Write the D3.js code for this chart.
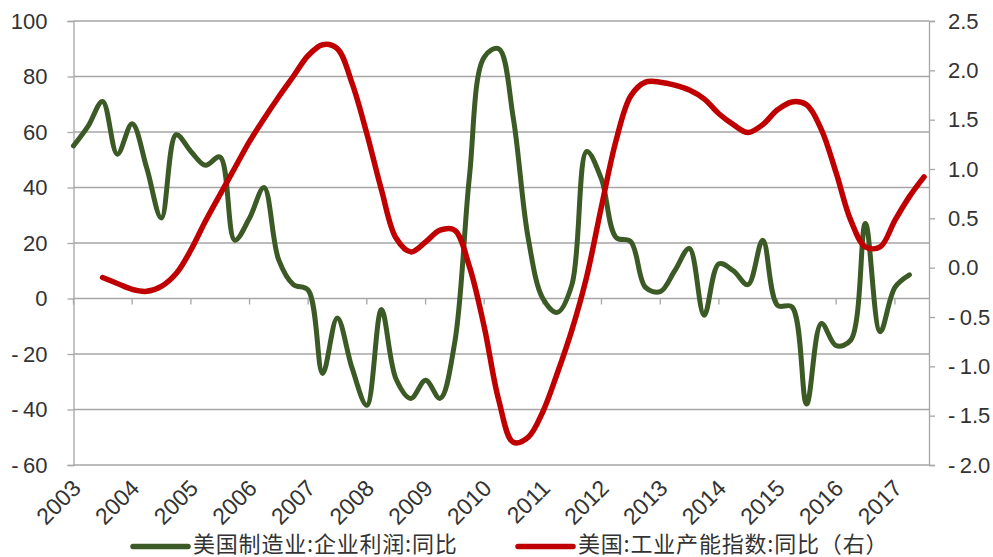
<!DOCTYPE html>
<html>
<head>
<meta charset="utf-8">
<script src="https://cdn.jsdelivr.net/npm/d3@7"></script>
<style>
  html, body { margin: 0; padding: 0; background: #fff; }
  svg { display: block; }
  .tick-label { font-family: "Liberation Sans", Arial, sans-serif; font-size: 22px; fill: #333; }
  .year-label { font-family: "Liberation Sans", Arial, sans-serif; font-size: 23px; fill: #333; }
  .legend-label { font-family: "Noto Sans CJK SC", sans-serif; font-size: 22px; letter-spacing: 0.8px; fill: #333; }
</style>
</head>
<body>
<svg id="chart" width="993" height="557"></svg>
<script>
// US manufacturing corporate profits, YoY (%), quarterly — left axis
const profitDates = [
  "2003-01","2003-04","2003-07","2003-10","2004-01","2004-04","2004-07","2004-10",
  "2005-01","2005-04","2005-07","2005-10","2006-01","2006-04","2006-07","2006-10",
  "2007-01","2007-04","2007-07","2007-10","2008-01","2008-04","2008-07","2008-10",
  "2009-01","2009-04","2009-07","2009-10","2010-01","2010-04","2010-07","2010-10",
  "2011-01","2011-04","2011-07","2011-10","2012-01","2012-04","2012-07","2012-10",
  "2013-01","2013-04","2013-07","2013-10","2014-01","2014-04","2014-07","2014-10",
  "2015-01","2015-04","2015-07","2015-10","2016-01","2016-04","2016-07","2016-10",
  "2017-01","2017-04"
];
const profitValues = [
  55, 62, 71, 52, 63, 47, 29, 59,
  53, 48, 51, 21, 29, 40, 14, 5,
  3, -27, -7, -25, -38.5, -4, -29, -36,
  -29.5, -36, -16, 44, 87, 90, 65, 22,
  0, -5, 5, 53, 43, 22, 20.5, 4,
  2.5, 10, 18, -6, 12.5, 10, 5, 21,
  -2.5, -3, -38, -9, -17, -15, 27, -12,
  4, 8.5
];

// US industrial capacity index, YoY (%) — right axis
const capacityDates = [
  "2003-07","2003-10","2004-01","2004-04","2004-07","2004-10","2005-01","2005-04",
  "2005-07","2005-10","2006-01","2006-04","2006-07","2006-10","2007-01","2007-04",
  "2007-07","2007-10","2008-01","2008-04","2008-07","2008-10","2009-01","2009-04",
  "2009-07","2009-10","2010-01","2010-04","2010-07","2010-10","2011-01","2011-04",
  "2011-07","2011-10","2012-01","2012-04","2012-07","2012-10","2013-01","2013-04",
  "2013-07","2013-10","2014-01","2014-04","2014-07","2014-10","2015-01","2015-04",
  "2015-07","2015-10","2016-01","2016-04","2016-07","2016-10","2017-01","2017-04",
  "2017-07"
];
const capacityValues = [
  -0.10, -0.16, -0.22, -0.24, -0.19, -0.06, 0.18, 0.47,
  0.74, 1.01, 1.28, 1.51, 1.73, 1.94, 2.15, 2.26,
  2.22, 1.87, 1.36, 0.79, 0.30, 0.16, 0.26, 0.38,
  0.38, 0.01, -0.60, -1.34, -1.77, -1.72, -1.46, -1.07,
  -0.63, -0.09, 0.62, 1.29, 1.74, 1.88, 1.88, 1.85,
  1.80, 1.71, 1.56, 1.45, 1.37, 1.45, 1.60, 1.68,
  1.65, 1.40, 0.96, 0.48, 0.21, 0.21, 0.48, 0.72,
  0.92
];

const yearLabels = ["2003","2004","2005","2006","2007","2008","2009","2010",
                    "2011","2012","2013","2014","2015","2016","2017"];
const leftTicks = [-60, -40, -20, 0, 20, 40, 60, 80, 100];
const rightTicks = [-2.0, -1.5, -1.0, -0.5, 0.0, 0.5, 1.0, 1.5, 2.0, 2.5];

const seriesNames = ["美国制造业:企业利润:同比", "美国:工业产能指数:同比（右）"];
const colors = { profit: "#3b5a25", capacity: "#c00000", grid: "#a6a6a6" };

const parse = d3.timeParse("%Y-%m");
const svg = d3.select("#chart");

const plot = { left: 73.5, right: 929, top: 21, bottom: 465 };

const x = d3.scaleTime()
  .domain([parse("2003-01"), parse("2017-08")])
  .range([plot.left, plot.right]);
const yL = d3.scaleLinear().domain([-60, 100]).range([plot.bottom, plot.top]);
const yR = d3.scaleLinear().domain([-2, 2.5]).range([plot.bottom, plot.top]);

// horizontal gridlines
svg.append("g").selectAll("line").data(leftTicks).join("line")
  .attr("x1", plot.left).attr("x2", plot.right)
  .attr("y1", d => yL(d)).attr("y2", d => yL(d))
  .attr("stroke", colors.grid).attr("stroke-width", 1.3);

// left axis
const leftAxis = svg.append("g")
  .attr("transform", `translate(${plot.left},0)`)
  .call(d3.axisLeft(yL).tickValues(leftTicks).tickSize(6).tickPadding(20)
        .tickFormat(d3.format("d")));
leftAxis.select(".domain").attr("stroke", colors.grid).attr("stroke-width", 1.3);
leftAxis.selectAll(".tick line").attr("stroke", colors.grid).attr("stroke-width", 1.3);
leftAxis.selectAll(".tick text").attr("class", "tick-label").attr("font-size", null)
  .attr("font-family", null).attr("fill", null).text(d => String(d).replace("-", "-\u2009"));

// right axis
const rightAxis = svg.append("g")
  .attr("transform", `translate(${plot.right},0)`)
  .call(d3.axisRight(yR).tickValues(rightTicks).tickSize(6).tickPadding(13)
        .tickFormat(d3.format(".1f")));
rightAxis.select(".domain").attr("stroke", colors.grid).attr("stroke-width", 1.3);
rightAxis.selectAll(".tick line").attr("stroke", colors.grid).attr("stroke-width", 1.3);
rightAxis.selectAll(".tick text").attr("class", "tick-label").attr("font-size", null)
  .attr("font-family", null).attr("fill", null)
  .text(d => d3.format(".1f")(d).replace("−", "-\u2009"));

// x axis: tick marks sit on the zero line, labels run along the bottom
const years = yearLabels.map(y => parse(y + "-01"));
svg.append("g").selectAll("line").data(years).join("line")
  .attr("x1", d => x(d)).attr("x2", d => x(d))
  .attr("y1", yL(0)).attr("y2", yL(0) + 6)
  .attr("stroke", colors.grid).attr("stroke-width", 1.3);
svg.append("g").selectAll("text").data(yearLabels).join("text")
  .attr("class", "year-label")
  .attr("text-anchor", "end")
  .attr("transform", d => `translate(${x(parse(d + "-01")) + 3},${plot.bottom + 19}) rotate(-45)`)
  .attr("dy", "0.35em")
  .text(d => d);

// series
const line = (yScale) => d3.line()
  .x(d => x(d.date)).y(d => yScale(d.value))
  .curve(d3.curveCatmullRom.alpha(0.5));

const profit = profitDates.map((d, i) => ({ date: parse(d), value: profitValues[i] }));
const capacity = capacityDates.map((d, i) => ({ date: parse(d), value: capacityValues[i] }));

svg.append("path").datum(profit)
  .attr("fill", "none").attr("stroke", colors.profit).attr("stroke-width", 5)
  .attr("stroke-linejoin", "round").attr("stroke-linecap", "round")
  .attr("d", line(yL));
svg.append("path").datum(capacity)
  .attr("fill", "none").attr("stroke", colors.capacity).attr("stroke-width", 5.5)
  .attr("stroke-linejoin", "round").attr("stroke-linecap", "round")
  .attr("d", line(yR));

// legend
const legendItems = [
  { name: seriesNames[0], color: colors.profit, x0: 133 },
  { name: seriesNames[1], color: colors.capacity, x0: 518 }
];
const lg = svg.append("g").selectAll("g").data(legendItems).join("g")
  .attr("transform", d => `translate(${d.x0},546.5)`);
lg.append("line").attr("x1", 0).attr("x2", 55).attr("y1", 0).attr("y2", 0)
  .attr("stroke", d => d.color).attr("stroke-width", 5.5).attr("stroke-linecap", "round");
lg.append("text").attr("class", "legend-label").attr("x", 60).attr("y", -5)
  .attr("dominant-baseline", "central")
  .text(d => d.name);
</script>
</body>
</html>
